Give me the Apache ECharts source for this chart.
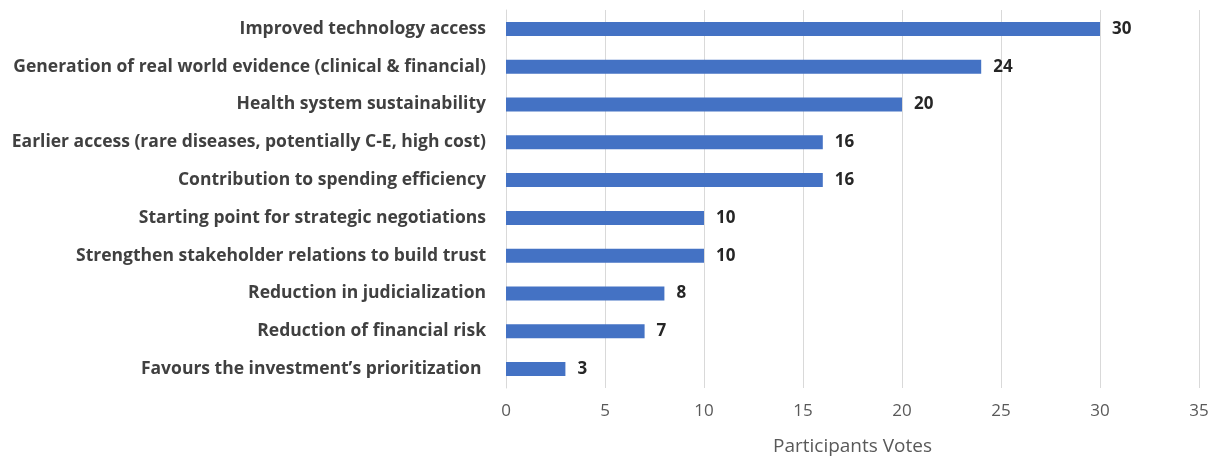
<!DOCTYPE html>
<html><head><meta charset="utf-8">
<script src="https://cdn.jsdelivr.net/npm/echarts@6/dist/echarts.min.js"></script>
<style>html,body{margin:0;padding:0;background:#fff}#c{width:1210px;height:457px}</style>
</head><body><div id="c"></div>
<script>
const categories = [
  "Improved technology access",
  "Generation of real world evidence (clinical & financial)",
  "Health system sustainability",
  "Earlier access (rare diseases, potentially C-E, high cost)",
  "Contribution to spending efficiency",
  "Starting point for strategic negotiations",
  "Strengthen stakeholder relations to build trust",
  "Reduction in judicialization",
  "Reduction of financial risk",
  "Favours the investment\u2019s prioritization "
];
const votes = [30, 24, 20, 16, 16, 10, 10, 8, 7, 3];
const xTicks = [0, 5, 10, 15, 20, 25, 30, 35];

const chart = echarts.init(document.getElementById('c'));
chart.setOption({
  animation: false,
  grid: { left: 506, right: 11, top: 10, bottom: 69, containLabel: false, outerBoundsMode: 'none' },
  xAxis: {
    type: 'value', min: 0, max: 35, interval: 5,
    name: 'Participants Votes', nameLocation: 'middle', nameGap: 49,
    nameTextStyle: { fontFamily: 'Open Sans', fontSize: 19, color: '#595959' },
    axisLine: { show: false }, axisTick: { show: false },
    axisLabel: { fontFamily: 'Open Sans', fontSize: 17, color: '#595959', margin: 15 },
    splitLine: { lineStyle: { color: '#d9d9d9', width: 1 } }
  },
  yAxis: {
    type: 'category', data: categories, inverse: true,
    axisLine: { show: true, lineStyle: { color: '#d9d9d9' } },
    axisTick: { show: false },
    axisLabel: { fontFamily: 'Open Sans', fontWeight: 'bold', fontSize: 17.5, color: '#404040', margin: 20 }
  },
  series: [{
    type: 'bar', data: votes, barWidth: 14,
    itemStyle: { color: '#4472C4' },
    label: { show: true, position: 'right', distance: 12, fontFamily: 'Open Sans', fontWeight: 'bold', fontSize: 17, color: '#262626' }
  }]
});
</script></body></html>
